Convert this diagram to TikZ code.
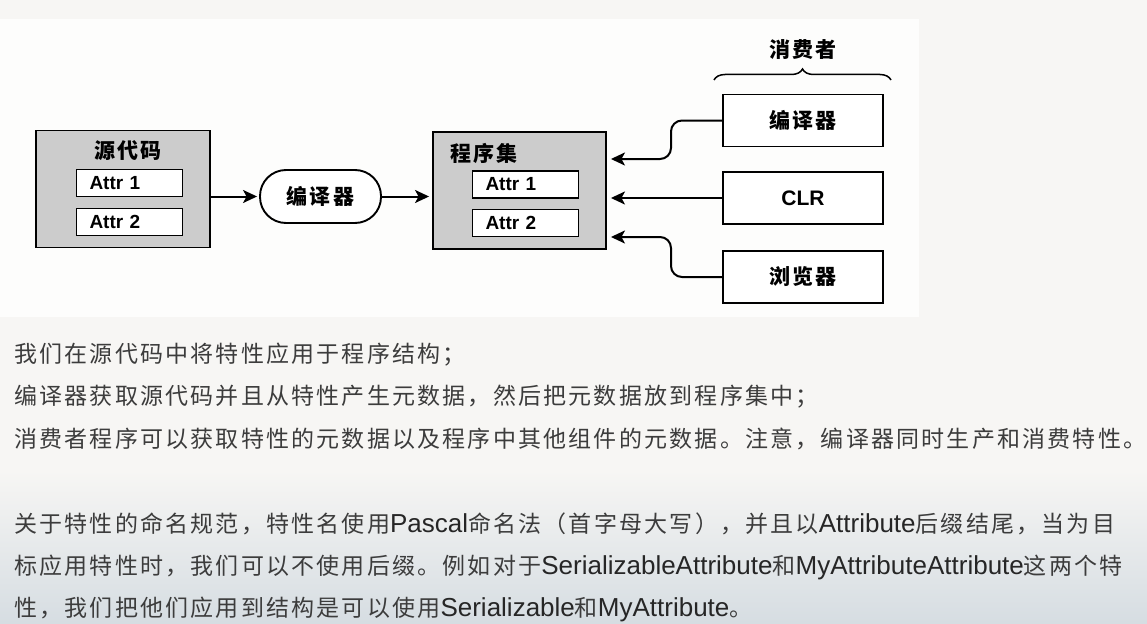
\documentclass[tikz,border=0pt]{standalone}
\usepackage{fontspec}
\setmainfont{Noto Sans CJK SC}[LetterSpace=9.6]
\newfontfamily\latfont{Liberation Sans}
\usetikzlibrary{arrows.meta,decorations.pathreplacing}
\definecolor{bgtop}{RGB}{247,246,244}
\definecolor{bgbot}{RGB}{214,221,226}
\definecolor{panel}{RGB}{253,253,252}
\definecolor{ink}{RGB}{60,60,60}
\newcommand\lat[1]{{\latfont\fontsize{26}{26}\selectfont\color{black!85}#1}}
\tikzset{
  hdr/.style={font=\bfseries\fontsize{21}{21}\selectfont},
  outer/.style={draw, line width=1.9pt, fill=gray!40, minimum width=174pt, minimum height=117pt},
  attr/.style={draw, line width=1.9pt, fill=white, text width=80pt, inner xsep=13pt, inner ysep=0pt,
    minimum height=27pt, align=left, font=\latfont\bfseries\fontsize{19}{19}\selectfont},
  cons/.style={draw, line width=1.9pt, fill=white, minimum width=160pt, minimum height=52pt, hdr},
  arr/.style={line width=2pt, -{Stealth[length=14pt,width=13pt,inset=3.5pt]}},
  para/.style={anchor=base west, inner sep=0pt, text=ink, font=\fontsize{23}{23}\selectfont}
}
\begin{document}
\begin{tikzpicture}[x=1pt,y=-1pt]
    \useasboundingbox (0,0) rectangle (1147,623);
    % background and figure panel
    \fill[bgtop] (0,0) rectangle (1147,470);
    \fill[top color=bgtop, bottom color=bgbot] (0,470) rectangle (1147,623);
    \fill[panel] (0,19) rectangle (919,317);

    % source code
    \node[outer] (src) at (123,189) {};
    \node[hdr] (srct) at (128,151) {源代码};
    \node[attr] (sa1) at (129.5,183) {Attr 1};
    \node[attr] (sa2) at (129.5,222) {Attr 2};

    \node[draw, line width=1.9pt, fill=white, rounded corners=26pt, minimum width=121pt,
      minimum height=53pt, hdr] (comp) at (320.5,196.5) {编译器};

    % assembly
    \node[outer, minimum width=173pt] (asm) at (519.5,190.5) {};
    \node[hdr] (asmt) at (484,153) {程序集};
    \node[attr] (aa1) at (525.5,184.5) {Attr 1};
    \node[attr] (aa2) at (525.5,223) {Attr 2};

    % consumers
    \node[cons] (c1) at (803,120.5) {编译器};
    \node[cons, font=\latfont\bfseries\fontsize{21}{21}\selectfont] (c2) at (803,198) {CLR};
    \node[cons] (c3) at (803,277) {浏览器};
    \node[hdr] (cl) at (803,50) {消费者};
    \draw[line width=1.5pt, decorate, decoration={brace, amplitude=11pt}] (714,80) -- (891,80);

    \draw[arr, shorten >=2pt] (src.east |- comp.west) -- (comp.west);
    \draw[arr, shorten >=3pt] (comp.east) -- (comp.east -| asm.west);
    \coordinate (bend) at (671,0);
    \coordinate (in1) at ([yshift=31.5pt]asm.east);
    \coordinate (in3) at ([yshift=-46.5pt]asm.east);
    \draw[arr, rounded corners=11pt, shorten >=4pt] (c1.west) -- (bend |- c1.west) -- (bend |- in1) -- (in1);
    \draw[arr, shorten >=4pt] (c2.west) -- (c2.west -| asm.east);
    \draw[arr, rounded corners=11pt, shorten >=4pt] (c3.west) -- (bend |- c3.west) -- (bend |- in3) -- (in3);

    % text below
    \node[para] (l1) at (14,362) {我们在源代码中将特性应用于程序结构；};
    \node[para] (l2) at (14,404) {编译器获取源代码并且从特性产生元数据，然后把元数据放到程序集中；};
    \node[para] (l3) at (14,447) {消费者程序可以获取特性的元数据以及程序中其他组件的元数据。注意，编译器同时生产和消费特性。};
    \node[para] (l4) at (14,532) {关于特性的命名规范，特性名使用\lat{Pascal}命名法（首字母大写），并且以\lat{Attribute}后缀结尾，当为目};
    \node[para] (l5) at (14,574) {标应用特性时，我们可以不使用后缀。例如对于\lat{SerializableAttribute}和\lat{MyAttributeAttribute}这两个特};
    \node[para] (l6) at (14,616) {性，我们把他们应用到结构是可以使用\lat{Serializable}和\lat{MyAttribute}。};
\end{tikzpicture}
\end{document}
